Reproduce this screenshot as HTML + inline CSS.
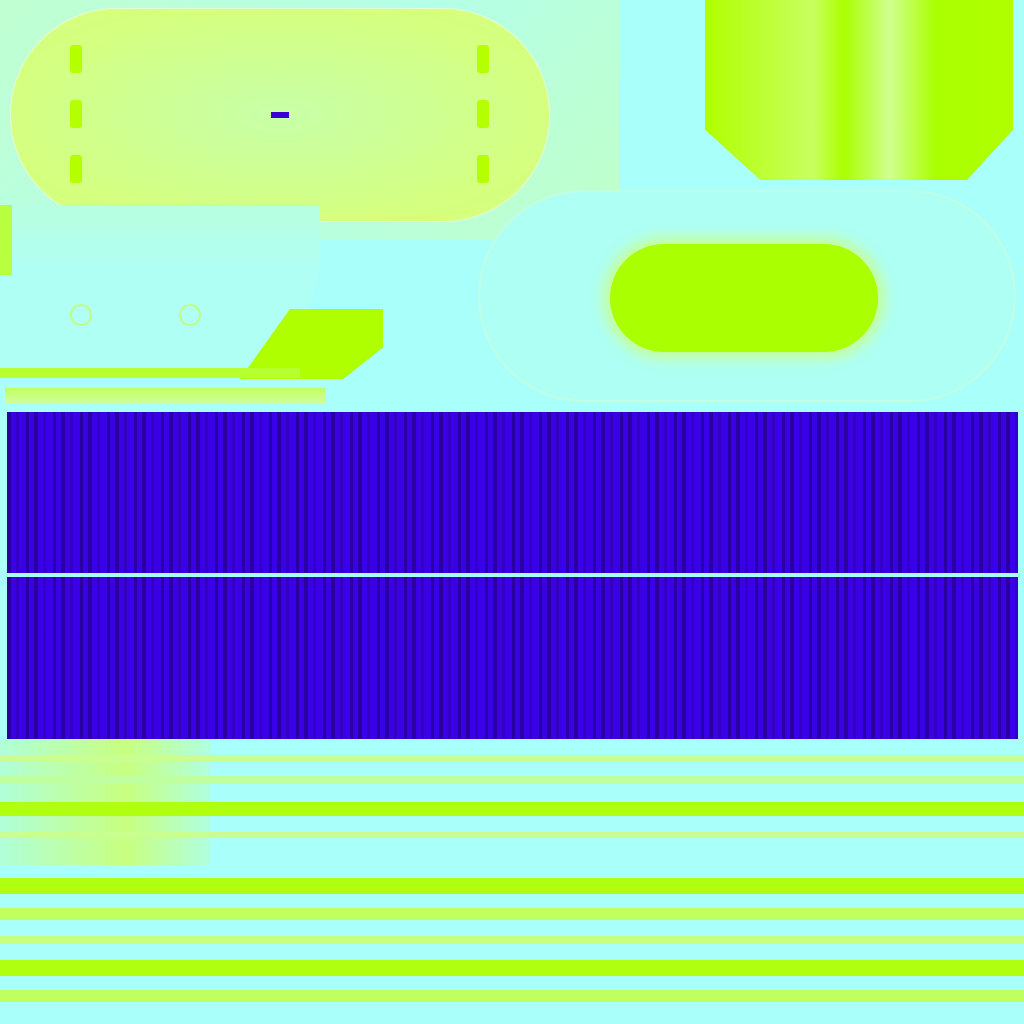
<!DOCTYPE html>
<html><head><meta charset="utf-8"><style>
html,body{margin:0;padding:0}
body{width:1024px;height:1024px;position:relative;overflow:hidden;background:#a9fff9}
div{position:absolute;box-sizing:border-box}
.blue{background:
 repeating-linear-gradient(90deg,rgba(35,0,130,0.7) 0 4px,rgba(0,0,0,0) 4px 9px,rgba(45,0,160,0.5) 9px 12px,rgba(0,0,0,0) 12px 19px,rgba(30,0,120,0.6) 19px 22px,rgba(0,0,0,0) 22px 27px),
 #3a00e6;}
.peg{background:#b4ff00;width:12px;height:28px;border-radius:3px}
</style></head><body>
<div style="left:0;top:0;width:620px;height:240px;background:linear-gradient(135deg,#c0ffd0,#b4ffe8 50%,#c0ffc8)"></div>
<div style="left:10px;top:8px;width:540px;height:214px;border-radius:107px;background:radial-gradient(ellipse at 50% 50%,#c8ffa8,#d4ff80 70%,#d6ff78);border:1px solid #e8ffd0"></div>
<div class="peg" style="left:70px;top:45px"></div>
<div class="peg" style="left:70px;top:100px"></div>
<div class="peg" style="left:70px;top:155px"></div>
<div class="peg" style="left:477px;top:45px"></div>
<div class="peg" style="left:477px;top:100px"></div>
<div class="peg" style="left:477px;top:155px"></div>
<div style="left:271px;top:112px;width:18px;height:6px;background:#3a00d0"></div>
<div style="left:705px;top:0;width:308px;height:180px;background:linear-gradient(90deg,#b0ff00,#c8ff60 35%,#aaff00 45%,#d0ff90 60%,#aaff00 75%,#b0ff00);clip-path:polygon(0 0,100% 0,100% 72%,85% 100%,18% 100%,0 72%)"></div>
<div style="left:478px;top:190px;width:538px;height:212px;border-radius:106px;background:#aefff4;border:2px solid #c0ffe4"></div>
<div style="left:610px;top:244px;width:268px;height:108px;border-radius:54px;background:#aaff00;box-shadow:0 0 14px 6px #c8ff90"></div>
<div style="left:0;top:205px;width:320px;height:170px;background:linear-gradient(180deg,#b8ffe0,#b0fff4 40%,#b0fff4);border-radius:0 0 120px 0"></div>
<div style="left:0;top:205px;width:12px;height:70px;background:#b8ff40"></div>
<div style="left:240px;top:309px;width:143px;height:70px;background:#b0ff00;clip-path:polygon(35% 0,100% 0,100% 55%,72% 100%,0 100%)"></div>
<div style="left:0;top:368px;width:300px;height:10px;background:#b8ff30"></div>
<div style="left:5px;top:388px;width:320px;height:16px;background:linear-gradient(180deg,#c0ff60,#d0ffa0)"></div>
<div style="left:70px;top:304px;width:22px;height:22px;border-radius:50%;border:2px solid #c0ff80"></div>
<div style="left:179px;top:304px;width:22px;height:22px;border-radius:50%;border:2px solid #c0ff80"></div>
<div class="blue" style="left:7px;top:412px;width:1011px;height:161px"></div>
<div class="blue" style="left:7px;top:577px;width:1011px;height:162px"></div>
<div style="left:0;top:740px;width:210px;height:125px;background:linear-gradient(90deg,#b0ffd8,#c8ff80 60%,#b0ffe0)"></div>
<div style="left:0;top:740px;width:1024px;height:284px;background:linear-gradient(180deg,
 rgba(0,0,0,0) 0 15px,#c8ff90 15px 22px,rgba(0,0,0,0) 22px 36px,#c0ffa0 36px 44px,rgba(0,0,0,0) 44px 62px,#b0ff10 62px 76px,rgba(0,0,0,0) 76px 92px,#c8ff90 92px 98px,rgba(0,0,0,0) 98px 138px,#b0ff10 138px 154px,rgba(0,0,0,0) 154px 168px,#c0ff60 168px 180px,rgba(0,0,0,0) 180px 196px,#c8ff80 196px 204px,rgba(0,0,0,0) 204px 220px,#b0ff10 220px 236px,rgba(0,0,0,0) 236px 250px,#c0ff60 250px 262px,rgba(0,0,0,0) 262px 284px)"></div>
</body></html>
